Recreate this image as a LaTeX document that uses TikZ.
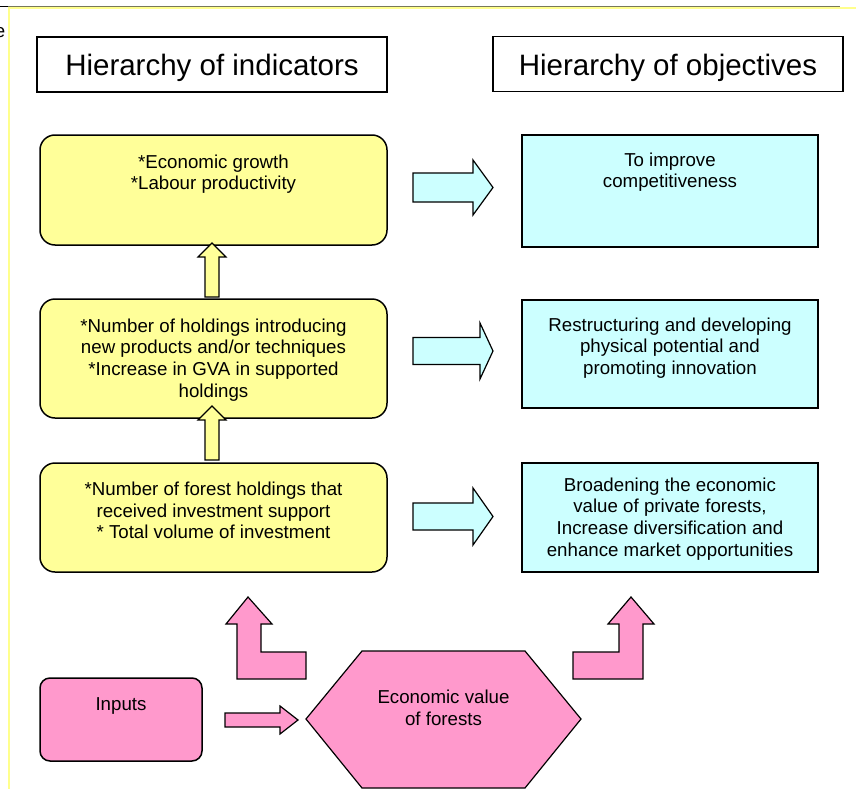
\documentclass[tikz,border=0pt]{standalone}
\usepackage{fontspec}
\setmainfont{Liberation Sans}
\usetikzlibrary{calc}
\definecolor{indyellow}{RGB}{255,255,153}
\definecolor{objcyan}{RGB}{204,255,255}
\definecolor{inpink}{RGB}{255,153,204}
\definecolor{frameyellow}{RGB}{255,255,140}
\definecolor{framedark}{RGB}{120,120,90}
% block arrows: (tail x, centre y)(length:shaft half:head half:head length)
\def\rightblock[#1](#2,#3)(#4:#5:#6:#7){\draw[#1] (#2,{#3-#5}) -- ({#2+#4-#7},{#3-#5}) -- ({#2+#4-#7},{#3-#6}) -- ({#2+#4},#3) -- ({#2+#4-#7},{#3+#6}) -- ({#2+#4-#7},{#3+#5}) -- (#2,{#3+#5}) -- cycle;}
% (centre x, bottom y)(length:shaft half:head half:head length)
\def\upblock[#1](#2,#3)(#4:#5:#6:#7){\draw[#1] ({#2-#5},#3) -- ({#2-#5},{#3-#4+#7}) -- ({#2-#6},{#3-#4+#7}) -- (#2,{#3-#4}) -- ({#2+#6},{#3-#4+#7}) -- ({#2+#5},{#3-#4+#7}) -- ({#2+#5},#3) -- cycle;}
\tikzset{
  titlebox/.style={draw, line width=1.2pt, minimum width=350pt, minimum height=55pt, inner sep=0pt, font=\fontsize{29.5}{34}\selectfont, text height=23pt, text depth=0pt},
  indbox/.style={draw, line width=1.5pt, fill=indyellow, rounded corners=15pt, minimum width=347pt, inner sep=0pt},
  objbox/.style={draw, line width=1.5pt, fill=objcyan, minimum width=296pt, inner sep=0pt},
  boxtext/.style={anchor=north, align=center, inner sep=0pt, font=\fontsize{18.7}{21.7}\selectfont},
  blockarrow/.style={line width=1.2pt, line join=miter},
}

\begin{document}
\begin{tikzpicture}[x=1pt, y=-1pt]
			%%%%% START %%%%%
			\useasboundingbox (0,0) rectangle (856,789);
			
			% frame of the slide
			\draw[line width=1.2pt, color=black] (0,6.5) -- (8,6.5);
			\draw[line width=0.8pt, color=framedark] (8,6.5) -- (840,6.5);
			\draw[line width=1.5pt, color=frameyellow] (8,8) -- (856,8);
			\draw[line width=1.5pt, color=frameyellow] (9,8) -- (9,789);
			\node[anchor=base east, inner sep=0pt, font=\fontsize{18.7}{21.7}\selectfont] (cut) at (5.5,38) {e};
			
			% titles
			\node[titlebox] (indicators) at (212,64.5) {Hierarchy of indicators};
			\node[titlebox] (objectives) at (668,64) {Hierarchy of objectives};
			
			% indicators
			\node[indbox, minimum height=110pt] (growth) at (213.5,190) {};
			\node[boxtext] (growthtext) at ($(growth.north)+(0,20)$) {*Economic growth\\*Labour productivity};
			
			\node[indbox, minimum height=119pt] (holdings) at (213.5,358.5) {};
			\node[boxtext] (holdingstext) at ($(holdings.north)+(0,20)$) {*Number of holdings introducing\\new products and/or techniques\\*Increase in GVA in supported\\holdings};
			
			\node[indbox, minimum height=109pt] (forest) at (213.5,517.5) {};
			\node[boxtext] (foresttext) at ($(forest.north)+(0,19.5)$) {*Number of forest holdings that\\received investment support\\* Total volume of investment};
			
			\upblock[blockarrow, draw, fill=indyellow](212,297)(54:7:14:14)
			\upblock[blockarrow, draw, fill=indyellow](212,460)(54:7:14:14)
			
			% objectives
			\node[objbox, minimum height=112pt] (compet) at (670,191) {};
			\node[boxtext] (compettext) at ($(compet.north)+(0,18)$) {To improve\\competitiveness};
			
			\node[objbox, minimum height=108pt] (restruct) at (670,354) {};
			\node[boxtext] (restructtext) at ($(restruct.north)+(0,18)$) {Restructuring and developing\\physical potential and\\promoting innovation};
			
			\node[objbox, minimum height=109pt] (broaden) at (670,517.5) {};
			\node[boxtext] (broadentext) at ($(broaden.north)+(0,15)$) {Broadening the economic\\value of private forests,\\Increase diversification and\\enhance market opportunities};
			
			\rightblock[blockarrow, draw, fill=objcyan](413,187.5)(80:14.5:27.5:20)
			\rightblock[blockarrow, draw, fill=objcyan](413,351)(80:13.5:28:13)
			\rightblock[blockarrow, draw, fill=objcyan](413,516.5)(80:13.5:28.5:20)
			
			% inputs and the value of forests
			\node[draw, line width=1.5pt, fill=inpink, rounded corners=10pt, minimum width=162pt, minimum height=83pt, inner sep=0pt] (inputs) at (121,719.5) {};
			\node[boxtext] (inputstext) at ($(inputs.north)+(0,20)$) {Inputs};
			
			\draw[blockarrow, draw, fill=inpink] (306,719) -- (362,651) -- (525,651) -- (581,719) -- (525,788) -- (362,788) -- cycle;
			\node[boxtext] (value) at (443.5,690) {Economic value\\of forests};
			
			\rightblock[blockarrow, draw, fill=inpink](225,720)(73:7:14:18)
			
			\draw[blockarrow, draw, fill=inpink] (248,597) -- (272,624) -- (261,624) -- (261,652) -- (306,652) -- (306,679) -- (237,679) -- (237,624) -- (226,624) -- cycle;
			\draw[blockarrow, draw, fill=inpink] (631,597) -- (654,624) -- (643,624) -- (643,679) -- (573,679) -- (573,652) -- (619,652) -- (619,624) -- (608,624) -- cycle;
			
			%%%%% END %%%%%
\end{tikzpicture}
\end{document}
